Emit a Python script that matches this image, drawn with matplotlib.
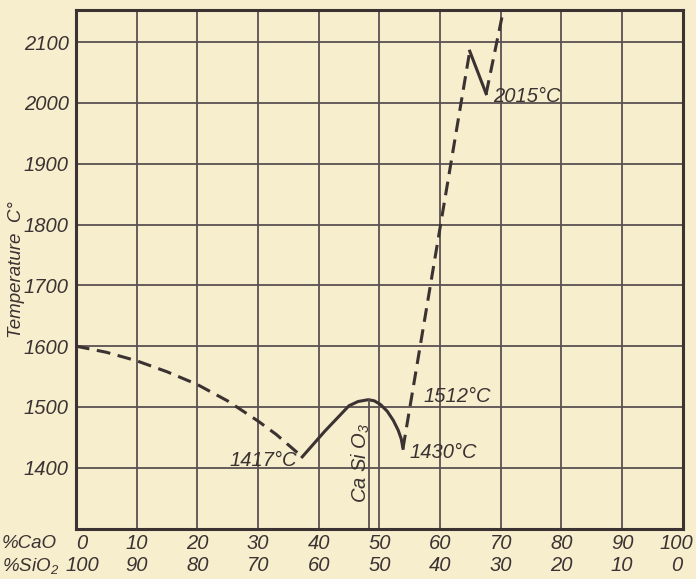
import matplotlib
matplotlib.use('Agg')
import matplotlib.pyplot as plt
from matplotlib.transforms import blended_transform_factory

# liquidus pieces (x = % CaO, y = temperature C)
dash1_x = [0, 5, 10, 15, 20, 25, 30, 33, 37.3]
dash1_y = [1600, 1590, 1576, 1558, 1537, 1510, 1477, 1455, 1418]
solid1_x = [37.3, 41, 45, 46.5, 48.2, 49.2, 50.2, 51.3, 52.3, 53.1, 53.6, 53.9]
solid1_y = [1418, 1460, 1502, 1509, 1512, 1510, 1504, 1493, 1478, 1462, 1448, 1432]
dash2_x = [53.9, 64.9]
dash2_y = [1432, 2085]
solid2_x = [64.9, 67.6]
solid2_y = [2085, 2015]
dash3_x = [67.6, 70.6]
dash3_y = [2015, 2160]

casio3_x = 48.3
casio3_top = 1512

cao_ticks = [0, 10, 20, 30, 40, 50, 60, 70, 80, 90, 100]
sio2_labels = ['100', '90', '80', '70', '60', '50', '40', '30', '20', '10', '0']
temp_ticks = [1400, 1500, 1600, 1700, 1800, 1900, 2000, 2100]

bg = '#f6eecd'
ink = '#3b3232'
fam = ['Liberation Sans', 'DejaVu Sans']
plt.rcParams['mathtext.fontset'] = 'custom'
plt.rcParams['mathtext.rm'] = 'Liberation Sans:italic'
plt.rcParams['mathtext.it'] = 'Liberation Sans:italic'

fig = plt.figure(figsize=(6.96, 5.79), dpi=100, facecolor=bg)
ax = fig.add_axes([0.109, 0.087, 0.872, 0.895])
ax.set_facecolor(bg)
ax.set_xlim(0, 100)
ax.set_ylim(1300, 2152)

ax.set_xticks(cao_ticks)
ax.set_yticks(temp_ticks)
ax.grid(True, color='#5a5050', linewidth=1.3)
ax.set_axisbelow(True)
ax.tick_params(length=0, labelbottom=False, pad=5)
ax.set_yticklabels([str(t) for t in temp_ticks], family=fam, style='italic',
                   fontsize=14.5, color=ink)
for s in ax.spines.values():
    s.set_linewidth(2.2)
    s.set_color(ink)

# curves
ax.plot(dash1_x, dash1_y, color=ink, lw=2.2, dashes=(4.5, 2.5))
ax.plot(solid1_x, solid1_y, color=ink, lw=2.2)
ax.plot(dash2_x, dash2_y, color=ink, lw=2.2, dashes=(4.5, 2.5))
ax.plot(solid2_x, solid2_y, color=ink, lw=2.2)
ax.plot(dash3_x, dash3_y, color=ink, lw=2.2, dashes=(4.5, 2.5))
ax.plot([casio3_x, casio3_x], [1300, casio3_top], color='#5a5050', lw=1.3)

tk = dict(family=fam, style='italic', fontsize=14.5, color=ink)
ax.text(36.5, 1412, '1417°C', ha='right', va='center', **tk)
ax.text(55.0, 1425, '1430°C', ha='left', va='center', **tk)
ax.text(57.3, 1518, '1512°C', ha='left', va='center', **tk)
ax.text(68.8, 2010, '2015°C', ha='left', va='center', **tk)
ax.text(46.9, 1408, 'Ca Si O$_3$', rotation=90, ha='center', va='center', **tk)

# two rows of composition labels under the frame
tr = blended_transform_factory(ax.transData, fig.transFigure)
for v, s in zip(cao_ticks, sio2_labels):
    xv = min(max(v, 1.0), 99.0)
    ax.text(xv, 0.062, str(v), transform=tr, ha='center', va='center', **tk)
    ax.text(xv, 0.023, s, transform=tr, ha='center', va='center', **tk)
small = dict(tk, fontsize=13.5)
fig.text(0.003, 0.062, '%CaO', ha='left', va='center', **small)
fig.text(0.003, 0.023, '%SiO$_2$', ha='left', va='center', **small)

fig.text(0.024, 0.535, 'Temperature  C°', rotation=90, ha='center', va='center',
         family=fam, style='italic', fontsize=13.5, color=ink)

plt.savefig('out.png', dpi=100, facecolor=bg)
